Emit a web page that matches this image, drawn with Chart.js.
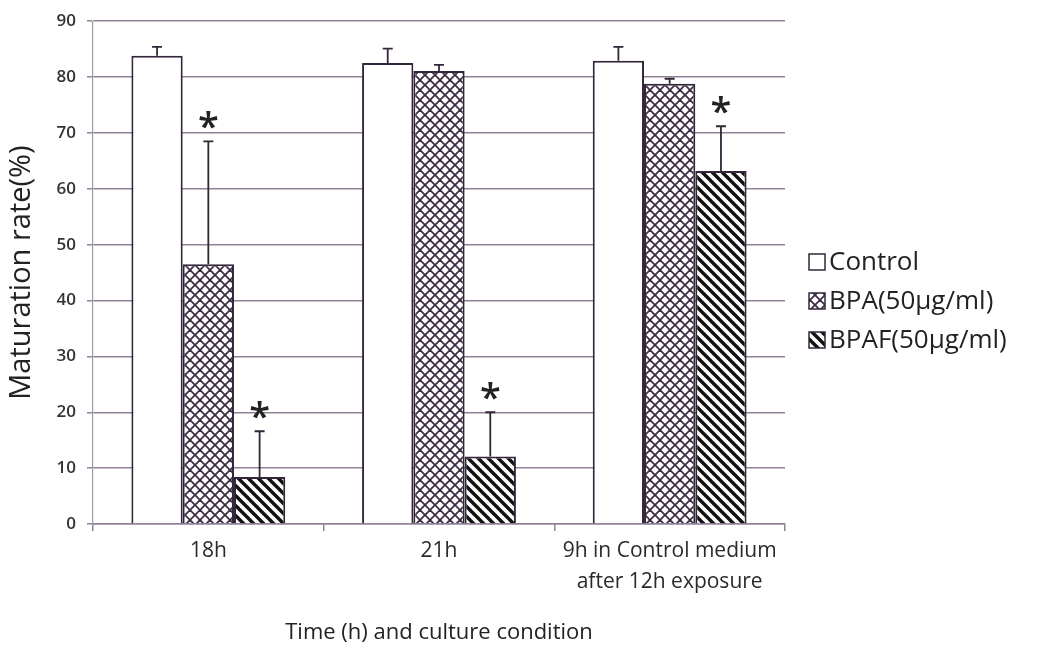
<!DOCTYPE html>
<html>
<head>
<meta charset="utf-8">
<script src="https://cdn.jsdelivr.net/npm/chart.js@4/dist/chart.umd.min.js"></script>
<style>
  html, body { margin: 0; padding: 0; background: #fff; }
  #wrap { width: 1047px; height: 650px; }
</style>
</head>
<body>
<div id="wrap"><canvas id="maturationChart" width="1047" height="650"></canvas></div>
<script>
// data
var categories = ["18h", "21h", ["9h in Control medium", "after 12h exposure"]];
var seriesNames = ["Control", "BPA(50\u00b5g/ml)", "BPAF(50\u00b5g/ml)"];
var controlValues = [83.8, 82.5, 82.9];
var controlErrors = [1.6, 2.6, 2.5];
var bpaValues = [46.5, 81.1, 78.8];
var bpaErrors = [22.0, 1.1, 0.9];
var bpafValues = [8.4, 12.1, 63.2];
var bpafErrors = [8.2, 7.9, 8.0];
var controlStars = [false, false, false];
var bpaStars = [true, false, false];
var bpafStars = [true, true, true];
var yTicks = [0, 10, 20, 30, 40, 50, 60, 70, 80, 90];

var FONT = "'Open Sans', 'DejaVu Sans', sans-serif";
var edgeColor = "#34263a";
var gridColor = "#8f8196";

function makePattern(kind) {
    var s = 10;
    var c = document.createElement("canvas");
    c.width = s; c.height = s;
    var g = c.getContext("2d");
    g.fillStyle = "#fff";
    g.fillRect(0, 0, s, s);
    if (kind === "cross") {
        g.strokeStyle = "#3e2f44";
        g.lineWidth = 1.8;
        for (var k = -1; k <= 1; k++) {
            g.beginPath(); g.moveTo(0, k * s); g.lineTo(s, s + k * s); g.stroke();
            g.beginPath(); g.moveTo(0, s + k * s); g.lineTo(s, k * s); g.stroke();
        }
    } else if (kind === "stripe") {
        g.strokeStyle = "#111";
        g.lineWidth = 3.4;
        for (var j = -1; j <= 1; j++) {
            g.beginPath(); g.moveTo(-2, j * s - 2); g.lineTo(s + 2, s + j * s + 2); g.stroke();
        }
    }
    return g.createPattern(c, "repeat");
}

var fills = ["#ffffff", makePattern("cross"), makePattern("stripe")];
var errorSets = [controlErrors, bpaErrors, bpafErrors];
var starSets = [controlStars, bpaStars, bpafStars];

// error bars (upper only) and significance stars
var errorBarPlugin = {
    id: "errorBars",
    afterDatasetsDraw: function(chart) {
        var ctx = chart.ctx;
        var yScale = chart.scales.y;
        chart.data.datasets.forEach(function(ds, di) {
            var meta = chart.getDatasetMeta(di);
            meta.data.forEach(function(bar, i) {
                var v = ds.data[i];
                var top = yScale.getPixelForValue(v + errorSets[di][i]);
                ctx.save();
                ctx.strokeStyle = edgeColor;
                ctx.lineWidth = 1.8;
                ctx.beginPath();
                ctx.moveTo(bar.x, bar.y);
                ctx.lineTo(bar.x, top);
                ctx.moveTo(bar.x - 5, top);
                ctx.lineTo(bar.x + 5, top);
                ctx.stroke();
                if (starSets[di][i]) {
                    ctx.fillStyle = "#222";
                    ctx.font = "600 38px " + FONT;
                    ctx.textAlign = "center";
                    ctx.textBaseline = "alphabetic";
                    ctx.fillText("*", bar.x, top - 1);
                }
                ctx.restore();
            });
        });
    }
};

// legend drawn at the right of the plot
var sideLegend = {
    id: "sideLegend",
    afterDraw: function(chart) {
        var ctx = chart.ctx;
        var x = chart.chartArea.right + 24;
        var rows = [262, 301, 340];
        ctx.save();
        seriesNames.forEach(function(name, i) {
            var cy = rows[i];
            ctx.fillStyle = fills[i];
            ctx.fillRect(x, cy - 8, 16, 16);
            ctx.strokeStyle = edgeColor;
            ctx.lineWidth = 1.5;
            ctx.strokeRect(x, cy - 8, 16, 16);
            ctx.fillStyle = "#222";
            ctx.font = "26px " + FONT;
            ctx.textAlign = "left";
            ctx.textBaseline = "middle";
            ctx.fillText(name, x + 20, cy + 1);
        });
        ctx.restore();
    }
};

var whiteBg = {
    id: "whiteBg",
    beforeDraw: function(chart) {
        var ctx = chart.ctx;
        ctx.save();
        ctx.fillStyle = "#fff";
        ctx.fillRect(0, 0, chart.width, chart.height);
        ctx.restore();
    }
};

var ctx = document.getElementById("maturationChart").getContext("2d");
var chart = new Chart(ctx, {
    type: "bar",
    data: {
        labels: categories,
        datasets: [{
            label: seriesNames[0],
            data: controlValues,
            backgroundColor: fills[0],
            borderColor: edgeColor,
            borderWidth: 2
        }, {
            label: seriesNames[1],
            data: bpaValues,
            backgroundColor: fills[1],
            borderColor: edgeColor,
            borderWidth: 2
        }, {
            label: seriesNames[2],
            data: bpafValues,
            backgroundColor: fills[2],
            borderColor: edgeColor,
            borderWidth: 2
        }]
    },
    options: {
        responsive: false,
        animation: false,
        layout: { padding: { top: 19, right: 262, bottom: 0, left: 0 } },
        datasets: { bar: { categoryPercentage: 0.667, barPercentage: 1.0 } },
        plugins: {
            legend: { display: false },
            tooltip: { enabled: false }
        },
        scales: {
            x: {
                afterFit: function(scale) { scale.height = 126; },
                grid: { display: true, drawOnChartArea: false, drawTicks: true, tickLength: 7, color: gridColor, lineWidth: 1.5, offset: true },
                border: { display: true, color: gridColor, width: 1.5 },
                ticks: { color: "#2a2a2a", font: { family: FONT, size: 21, weight: "500", lineHeight: 1.45 }, padding: 5, maxRotation: 0 },
                title: { display: true, text: "Time (h) and culture condition", color: "#222", font: { family: FONT, size: 22 }, padding: { top: 16, bottom: 4 } }
            },
            y: {
                min: 0,
                max: 90,
                afterBuildTicks: function(scale) {
                    scale.ticks = yTicks.map(function(v) { return { value: v }; });
                },
                afterFit: function(scale) { scale.width = 93; },
                grid: { color: gridColor, lineWidth: 1.5, tickLength: 6 },
                border: { display: true, color: "#a09aa6", width: 1.2 },
                ticks: { color: "#333", font: { family: FONT, size: 17, weight: "600" }, padding: 11 },
                title: { display: true, text: "Maturation rate(%)", color: "#222", font: { family: FONT, size: 29 }, padding: { top: 4, bottom: 0 } }
            }
        }
    },
    plugins: [whiteBg, errorBarPlugin, sideLegend]
});
</script>
</body>
</html>
